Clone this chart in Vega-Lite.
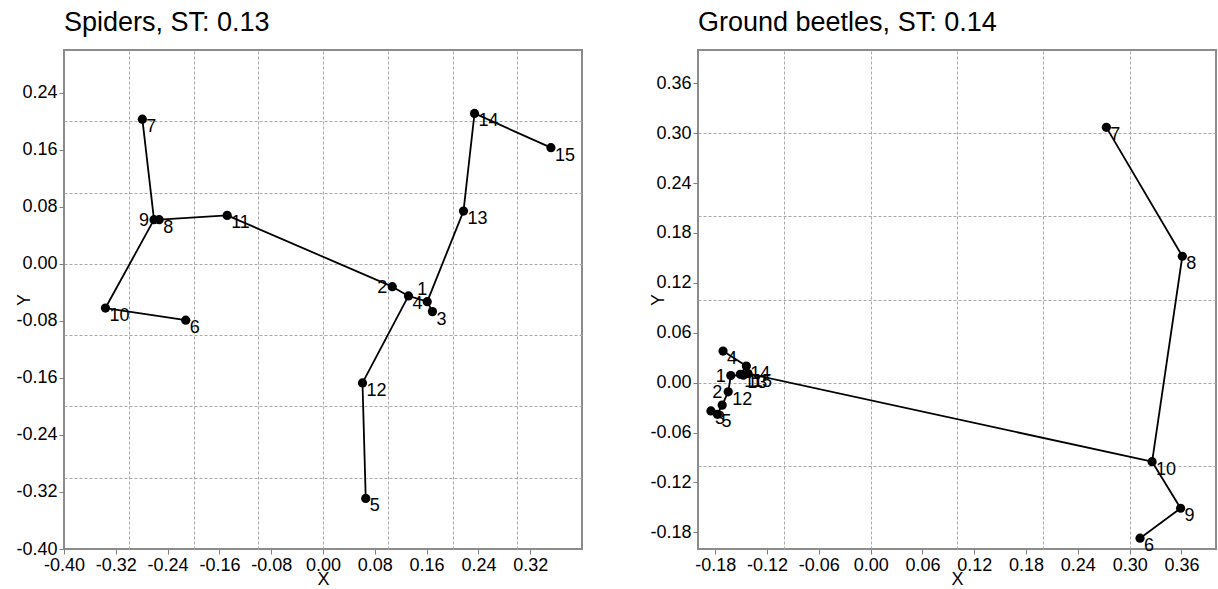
{
  "$schema": "https://vega.github.io/schema/vega-lite/v6.json",
  "padding": {"left": 14, "top": 8, "right": 2, "bottom": 0},
  "spacing": 65,
  "datasets": {
    "spiderNodes": [
      {"label": "1", "x": 0.161, "y": -0.053},
      {"label": "2", "x": 0.107, "y": -0.032},
      {"label": "3", "x": 0.169, "y": -0.067},
      {"label": "4", "x": 0.132, "y": -0.045},
      {"label": "5", "x": 0.066, "y": -0.329},
      {"label": "6", "x": -0.212, "y": -0.079},
      {"label": "7", "x": -0.279, "y": 0.203},
      {"label": "8", "x": -0.253, "y": 0.062},
      {"label": "9", "x": -0.261, "y": 0.062},
      {"label": "10", "x": -0.336, "y": -0.062},
      {"label": "11", "x": -0.148, "y": 0.068},
      {"label": "12", "x": 0.061, "y": -0.167},
      {"label": "13", "x": 0.217, "y": 0.074},
      {"label": "14", "x": 0.234, "y": 0.211},
      {"label": "15", "x": 0.352, "y": 0.163}
    ],
    "spiderEdges": [
      {"from": "7", "to": "9", "x1": -0.279, "y1": 0.203, "x2": -0.261, "y2": 0.062},
      {"from": "9", "to": "8", "x1": -0.261, "y1": 0.062, "x2": -0.253, "y2": 0.062},
      {"from": "8", "to": "11", "x1": -0.253, "y1": 0.062, "x2": -0.148, "y2": 0.068},
      {"from": "9", "to": "10", "x1": -0.261, "y1": 0.062, "x2": -0.336, "y2": -0.062},
      {"from": "10", "to": "6", "x1": -0.336, "y1": -0.062, "x2": -0.212, "y2": -0.079},
      {"from": "11", "to": "2", "x1": -0.148, "y1": 0.068, "x2": 0.107, "y2": -0.032},
      {"from": "2", "to": "4", "x1": 0.107, "y1": -0.032, "x2": 0.132, "y2": -0.045},
      {"from": "4", "to": "1", "x1": 0.132, "y1": -0.045, "x2": 0.161, "y2": -0.053},
      {"from": "1", "to": "3", "x1": 0.161, "y1": -0.053, "x2": 0.169, "y2": -0.067},
      {"from": "4", "to": "12", "x1": 0.132, "y1": -0.045, "x2": 0.061, "y2": -0.167},
      {"from": "12", "to": "5", "x1": 0.061, "y1": -0.167, "x2": 0.066, "y2": -0.329},
      {"from": "1", "to": "13", "x1": 0.161, "y1": -0.053, "x2": 0.217, "y2": 0.074},
      {"from": "13", "to": "14", "x1": 0.217, "y1": 0.074, "x2": 0.234, "y2": 0.211},
      {"from": "14", "to": "15", "x1": 0.234, "y1": 0.211, "x2": 0.352, "y2": 0.163}
    ],
    "beetleNodes": [
      {"label": "1", "x": -0.162, "y": 0.0085},
      {"label": "2", "x": -0.172, "y": -0.027},
      {"label": "3", "x": -0.185, "y": -0.034},
      {"label": "4", "x": -0.171, "y": 0.038},
      {"label": "5", "x": -0.1775, "y": -0.038},
      {"label": "6", "x": 0.312, "y": -0.187},
      {"label": "7", "x": 0.273, "y": 0.307},
      {"label": "8", "x": 0.361, "y": 0.152},
      {"label": "9", "x": 0.359, "y": -0.151},
      {"label": "10", "x": 0.326, "y": -0.095},
      {"label": "11", "x": -0.151, "y": 0.010},
      {"label": "12", "x": -0.165, "y": -0.011},
      {"label": "13", "x": -0.1475, "y": 0.009},
      {"label": "14", "x": -0.144, "y": 0.020},
      {"label": "15", "x": -0.142, "y": 0.011}
    ],
    "beetleEdges": [
      {"from": "7", "to": "8", "x1": 0.273, "y1": 0.307, "x2": 0.361, "y2": 0.152},
      {"from": "8", "to": "10", "x1": 0.361, "y1": 0.152, "x2": 0.326, "y2": -0.095},
      {"from": "10", "to": "9", "x1": 0.326, "y1": -0.095, "x2": 0.359, "y2": -0.151},
      {"from": "9", "to": "6", "x1": 0.359, "y1": -0.151, "x2": 0.312, "y2": -0.187},
      {"from": "10", "to": "15", "x1": 0.326, "y1": -0.095, "x2": -0.142, "y2": 0.011},
      {"from": "15", "to": "14", "x1": -0.142, "y1": 0.011, "x2": -0.144, "y2": 0.020},
      {"from": "14", "to": "11", "x1": -0.144, "y1": 0.020, "x2": -0.151, "y2": 0.010},
      {"from": "11", "to": "13", "x1": -0.151, "y1": 0.010, "x2": -0.1475, "y2": 0.009},
      {"from": "4", "to": "14", "x1": -0.171, "y1": 0.038, "x2": -0.144, "y2": 0.020},
      {"from": "1", "to": "13", "x1": -0.162, "y1": 0.0085, "x2": -0.1475, "y2": 0.009},
      {"from": "12", "to": "1", "x1": -0.165, "y1": -0.011, "x2": -0.162, "y2": 0.0085},
      {"from": "2", "to": "12", "x1": -0.172, "y1": -0.027, "x2": -0.165, "y2": -0.011},
      {"from": "5", "to": "2", "x1": -0.1775, "y1": -0.038, "x2": -0.172, "y2": -0.027},
      {"from": "3", "to": "5", "x1": -0.185, "y1": -0.034, "x2": -0.1775, "y2": -0.038}
    ]
  },
  "hconcat": [
    {
      "width": 518,
      "height": 499,
      "title": {"text": "Spiders, ST: 0.13"},
      "resolve": {"axis": {"x": "independent", "y": "independent"}},
      "layer": [
        {
          "data": {"name": "spiderEdges"},
          "mark": {"type": "rule", "color": "black", "strokeWidth": 1.8},
          "encoding": {
            "x": {"field": "x1", "type": "quantitative",
              "scale": {"domain": [-0.4, 0.4], "nice": false, "zero": false},
              "axis": {"orient": "bottom", "values": [-0.4, -0.32, -0.24, -0.16, -0.08, 0, 0.08, 0.16, 0.24, 0.32], "format": ".2f", "title": "X", "grid": false, "titlePadding": -4}},
            "y": {"field": "y1", "type": "quantitative",
              "scale": {"domain": [-0.4, 0.3], "nice": false, "zero": false},
              "axis": {"orient": "left", "values": [-0.4, -0.32, -0.24, -0.16, -0.08, 0, 0.08, 0.16, 0.24], "format": ".2f", "title": "Y", "grid": false, "titleX": -40, "titleY": 249.5, "titleBaseline": "middle", "titleAlign": "center"}},
            "x2": {"field": "x2"},
            "y2": {"field": "y2"}
          }
        },
        {
          "data": {"name": "spiderNodes"},
          "mark": {"type": "point", "filled": true, "color": "black", "size": 85, "opacity": 1},
          "encoding": {
            "x": {"field": "x", "type": "quantitative", "axis": {"orient": "top", "grid": true, "values": [-0.3, -0.2, -0.1, 0, 0.1, 0.2, 0.3], "labels": false, "ticks": false, "domain": false, "title": null}},
            "y": {"field": "y", "type": "quantitative", "axis": {"orient": "right", "grid": true, "values": [-0.3, -0.2, -0.1, 0, 0.1, 0.2], "labels": false, "ticks": false, "domain": false, "title": null}}
          }
        },
        {
          "data": {"name": "spiderNodes"},
          "transform": [{"filter": {"not": {"field": "label", "oneOf": ["9", "2", "1"]}}}],
          "mark": {"type": "text", "align": "left", "baseline": "middle", "dx": 4, "dy": 8, "fontSize": 18, "color": "black"},
          "encoding": {
            "x": {"field": "x", "type": "quantitative", "axis": null},
            "y": {"field": "y", "type": "quantitative", "axis": null},
            "text": {"field": "label"}
          }
        },
        {
          "data": {"name": "spiderNodes"},
          "transform": [{"filter": {"field": "label", "oneOf": ["9", "2"]}}],
          "mark": {"type": "text", "align": "right", "baseline": "middle", "dx": -5, "dy": 1, "fontSize": 18, "color": "black"},
          "encoding": {
            "x": {"field": "x", "type": "quantitative", "axis": null},
            "y": {"field": "y", "type": "quantitative", "axis": null},
            "text": {"field": "label"}
          }
        },
        {
          "data": {"name": "spiderNodes"},
          "transform": [{"filter": {"field": "label", "oneOf": ["1"]}}],
          "mark": {"type": "text", "align": "right", "baseline": "middle", "dx": 0, "dy": -12, "fontSize": 18, "color": "black"},
          "encoding": {
            "x": {"field": "x", "type": "quantitative", "axis": null},
            "y": {"field": "y", "type": "quantitative", "axis": null},
            "text": {"field": "label"}
          }
        }
      ]
    },
    {
      "width": 518,
      "height": 499,
      "title": {"text": "Ground beetles, ST: 0.14"},
      "resolve": {"axis": {"x": "independent", "y": "independent"}},
      "layer": [
        {
          "data": {"name": "beetleEdges"},
          "mark": {"type": "rule", "color": "black", "strokeWidth": 1.8},
          "encoding": {
            "x": {"field": "x1", "type": "quantitative",
              "scale": {"domain": [-0.2, 0.4], "nice": false, "zero": false},
              "axis": {"orient": "bottom", "values": [-0.18, -0.12, -0.06, 0, 0.06, 0.12, 0.18, 0.24, 0.3, 0.36], "format": ".2f", "title": "X", "grid": false, "titlePadding": -4}},
            "y": {"field": "y1", "type": "quantitative",
              "scale": {"domain": [-0.2, 0.4], "nice": false, "zero": false},
              "axis": {"orient": "left", "values": [-0.18, -0.12, -0.06, 0, 0.06, 0.12, 0.18, 0.24, 0.3, 0.36], "format": ".2f", "title": "Y", "grid": false, "titleX": -40, "titleY": 249.5, "titleBaseline": "middle", "titleAlign": "center"}},
            "x2": {"field": "x2"},
            "y2": {"field": "y2"}
          }
        },
        {
          "data": {"name": "beetleNodes"},
          "mark": {"type": "point", "filled": true, "color": "black", "size": 85, "opacity": 1},
          "encoding": {
            "x": {"field": "x", "type": "quantitative", "axis": {"orient": "top", "grid": true, "values": [-0.1, 0, 0.1, 0.2, 0.3], "labels": false, "ticks": false, "domain": false, "title": null}},
            "y": {"field": "y", "type": "quantitative", "axis": {"orient": "right", "grid": true, "values": [-0.1, 0, 0.1, 0.2, 0.3], "labels": false, "ticks": false, "domain": false, "title": null}}
          }
        },
        {
          "data": {"name": "beetleNodes"},
          "transform": [{"filter": {"not": {"field": "label", "oneOf": ["1", "2"]}}}],
          "mark": {"type": "text", "align": "left", "baseline": "middle", "dx": 4, "dy": 8, "fontSize": 18, "color": "black"},
          "encoding": {
            "x": {"field": "x", "type": "quantitative", "axis": null},
            "y": {"field": "y", "type": "quantitative", "axis": null},
            "text": {"field": "label"}
          }
        },
        {
          "data": {"name": "beetleNodes"},
          "transform": [{"filter": {"field": "label", "oneOf": ["1"]}}],
          "mark": {"type": "text", "align": "right", "baseline": "middle", "dx": -5, "dy": 1, "fontSize": 18, "color": "black"},
          "encoding": {
            "x": {"field": "x", "type": "quantitative", "axis": null},
            "y": {"field": "y", "type": "quantitative", "axis": null},
            "text": {"field": "label"}
          }
        },
        {
          "data": {"name": "beetleNodes"},
          "transform": [{"filter": {"field": "label", "oneOf": ["2"]}}],
          "mark": {"type": "text", "align": "right", "baseline": "middle", "dx": 0, "dy": -12, "fontSize": 18, "color": "black"},
          "encoding": {
            "x": {"field": "x", "type": "quantitative", "axis": null},
            "y": {"field": "y", "type": "quantitative", "axis": null},
            "text": {"field": "label"}
          }
        }
      ]
    }
  ],
  "config": {
    "font": "Liberation Sans",
    "background": "white",
    "view": {"stroke": "#8c8c8c", "strokeWidth": 2},
    "axis": {
      "labelFont": "Liberation Sans", "labelFontSize": 18, "labelColor": "#000000",
      "tickColor": "#808080", "tickSize": 5, "tickWidth": 1, "domain": false,
      "titleFont": "Liberation Sans", "titleFontSize": 18, "titleFontWeight": "normal", "titleColor": "#000000",
      "labelFlush": false, "labelOverlap": false, "labelPadding": 2,
      "gridColor": "#a8a8a8", "gridDash": [3, 2], "gridWidth": 1
    },
    "title": {"font": "Liberation Sans", "fontSize": 27, "fontWeight": "normal", "anchor": "start", "frame": "group", "baseline": "alphabetic", "offset": 13, "color": "#000000"},
    "locale": {"number": {"decimal": ".", "thousands": ",", "grouping": [3], "currency": ["$", ""], "minus": "-"}}
  }
}
